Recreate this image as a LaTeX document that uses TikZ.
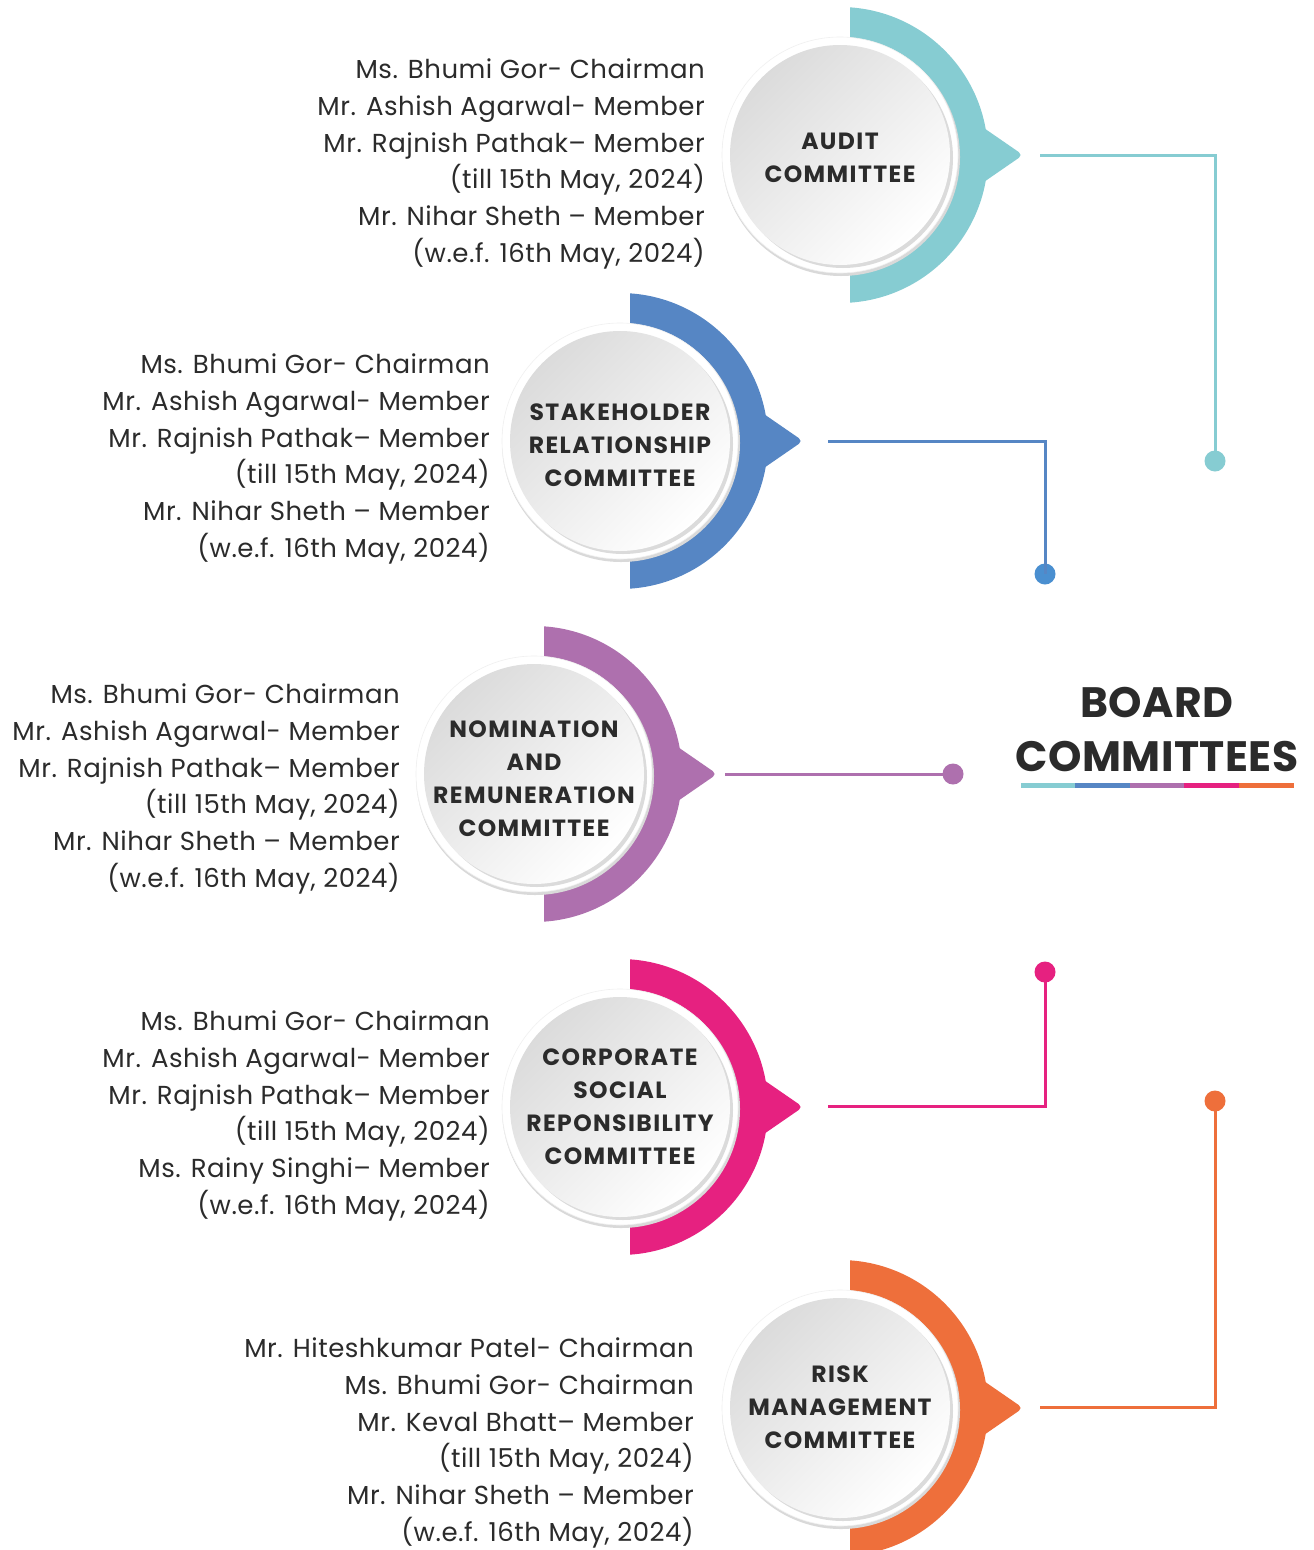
\documentclass[tikz,border=0pt]{standalone}
\usepackage{fontspec}
\setmainfont{Poppins}
\newfontfamily\memfont[LetterSpace=2]{Poppins}
\newfontfamily\capfont[LetterSpace=6]{Poppins}
\newfontfamily\titfont[LetterSpace=1]{Poppins}
\definecolor{cteal}{HTML}{86CCD2}
\definecolor{cblue}{HTML}{5686C4}
\definecolor{cbluedot}{HTML}{4A8FD0}
\definecolor{cpurple}{HTML}{AE70AE}
\definecolor{cpink}{HTML}{E62180}
\definecolor{corange}{HTML}{EE6F3B}
\definecolor{ctext}{HTML}{2B2B2B}
\tikzset{
  member/.style={anchor=east, align=right, inner sep=0pt, text=ctext,
    font=\memfont\fontsize{26}{36.8}\selectfont},
  cname/.style={align=center, inner sep=0pt, text=ctext,
    font=\capfont\fontsize{23.5}{33}\selectfont\bfseries},
  conn/.style={line width=3pt},
  dotc/.style={circle, inner sep=0pt, minimum size=21pt},
}
\newcommand{\comshape}[3]{%
  \begin{scope}[shift={(#1,#2)}]
    \fill[#3] (86.12:148) arc[start angle=86.12, end angle=10, radius=148]
      [rounded corners=5pt] -- (183,0) [sharp corners] -- (-10:148)
      arc[start angle=-10, end angle=-86.12, radius=148] -- cycle;
    \fill[gray!30] (1,-2) circle (119);
    \fill[white, draw=gray!12, line width=0.6pt] (0,0) circle (118);
    \fill[gray!28] (3,-3) circle (110);
    \shade[top color=gray!28, bottom color=white, shading angle=45] (0,0) circle (110);
  \end{scope}}
\begin{document}
\begin{tikzpicture}[x=1pt, y=1pt]
\useasboundingbox (0,0) rectangle (1314,-1550);
\fill[white] (0,0) rectangle (1314,-1550);

% shapes
\comshape{840}{-155}{cteal}
\comshape{620}{-441}{cblue}
\comshape{534}{-774}{cpurple}
\comshape{620}{-1107}{cpink}
\comshape{840}{-1408}{corange}

% committee names
\node[cname] (audit) at (840,-158) {AUDIT\\COMMITTEE};
\node[cname] (stake) at (620,-445) {STAKEHOLDER\\RELATIONSHIP\\COMMITTEE};
\node[cname] (nom) at (534,-779) {NOMINATION\\AND\\REMUNERATION\\COMMITTEE};
\node[cname] (csr) at (620,-1107) {CORPORATE\\SOCIAL\\REPONSIBILITY\\COMMITTEE};
\node[cname] (risk) at (840,-1407) {RISK\\MANAGEMENT\\COMMITTEE};

% tips
\coordinate (t1) at (1040,-155);
\coordinate (t2) at (828,-441);
\coordinate (t3) at (725,-774);
\coordinate (t4) at (828,-1106);
\coordinate (t5) at (1040,-1407);

% dots
\node[dotc, fill=cteal] (d1) at (1215,-461) {};
\node[dotc, fill=cbluedot] (d2) at (1045,-574) {};
\node[dotc, fill=cpurple] (d3) at (953,-774) {};
\node[dotc, fill=cpink] (d4) at (1045,-972) {};
\node[dotc, fill=corange] (d5) at (1215,-1101) {};

% connectors
\draw[conn, cteal] (t1) -| (d1.center);
\draw[conn, cblue] (t2) -| (d2.center);
\draw[conn, cpurple] (t3) -- (d3.center);
\draw[conn, cpink] (t4) -| (d4.center);
\draw[conn, corange] (t5) -| (d5.center);

% members
\node[member] (m1) at (705,-164) {Ms. Bhumi Gor- Chairman\\Mr. Ashish Agarwal- Member\\Mr. Rajnish Pathak– Member\\(till 15th May, 2024)\\Mr. Nihar Sheth – Member\\(w.e.f. 16th May, 2024)};
\node[member] (m2) at (490,-459) {Ms. Bhumi Gor- Chairman\\Mr. Ashish Agarwal- Member\\Mr. Rajnish Pathak– Member\\(till 15th May, 2024)\\Mr. Nihar Sheth – Member\\(w.e.f. 16th May, 2024)};
\node[member] (m3) at (400,-789) {Ms. Bhumi Gor- Chairman\\Mr. Ashish Agarwal- Member\\Mr. Rajnish Pathak– Member\\(till 15th May, 2024)\\Mr. Nihar Sheth – Member\\(w.e.f. 16th May, 2024)};
\node[member] (m4) at (490,-1116) {Ms. Bhumi Gor- Chairman\\Mr. Ashish Agarwal- Member\\Mr. Rajnish Pathak– Member\\(till 15th May, 2024)\\Ms. Rainy Singhi– Member\\(w.e.f. 16th May, 2024)};
\node[member] (m5) at (694,-1443) {Mr. Hiteshkumar Patel- Chairman\\Ms. Bhumi Gor- Chairman\\Mr. Keval Bhatt– Member\\(till 15th May, 2024)\\Mr. Nihar Sheth – Member\\(w.e.f. 16th May, 2024)};

% title
\node[align=center, inner sep=0pt, text=ctext, font=\titfont\fontsize{42.5}{54}\selectfont\bfseries] (title) at (1157,-730) {BOARD\\COMMITTEES};
\fill[cteal] (1021,-783) rectangle (1075,-788);
\fill[cblue] (1075,-783) rectangle (1130,-788);
\fill[cpurple] (1130,-783) rectangle (1184,-788);
\fill[cpink] (1184,-783) rectangle (1239,-788);
\fill[corange] (1239,-783) rectangle (1294,-788);
\end{tikzpicture}
\end{document}
